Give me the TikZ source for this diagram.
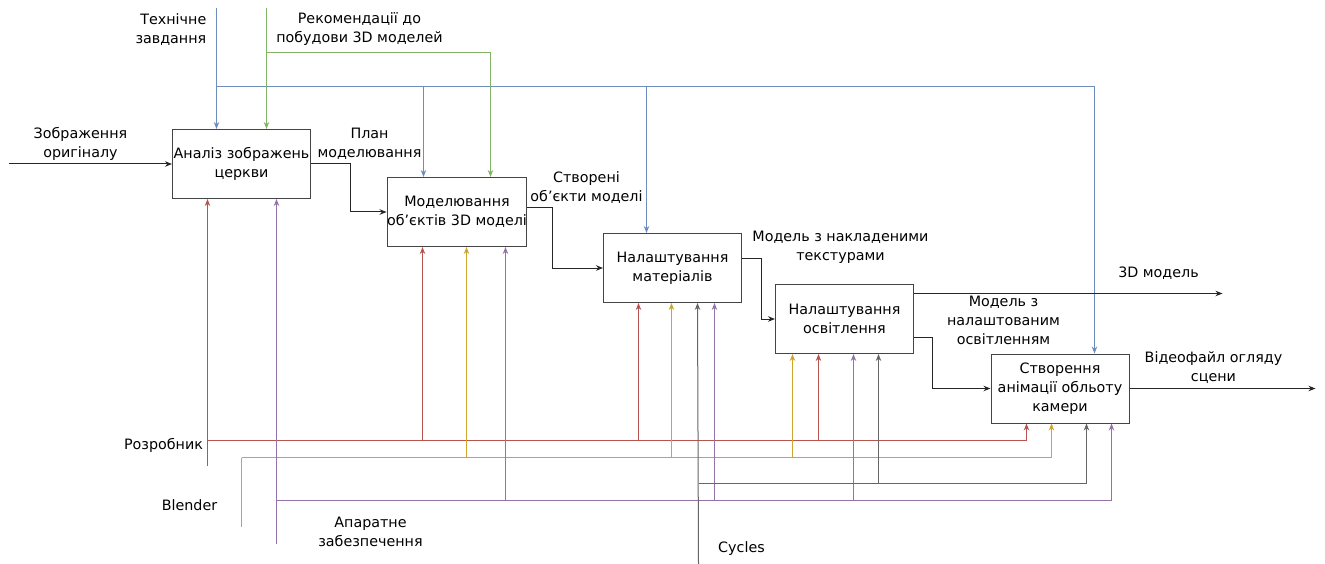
\documentclass[tikz,border=0pt]{standalone}
\usepackage{fontspec}
\setmainfont{DejaVu Sans}
\usepackage{xcolor}
\usepackage{tikz}
\usetikzlibrary{arrows.meta}
\definecolor{ctrlBlue}{HTML}{6C8EBF}
\definecolor{ctrlGreen}{HTML}{82B366}
\definecolor{mechRed}{HTML}{B85450}
\definecolor{mechYellow}{HTML}{CFA532}
\definecolor{mechPurple}{HTML}{9673A6}
\definecolor{mechGray}{HTML}{666666}
\definecolor{boxGray}{HTML}{444444}

\begin{document}
\begin{tikzpicture}[x=1pt,y=-1pt,
font=\fontsize{14.3}{19}\selectfont,
funcbox/.style={draw=boxGray, line width=1pt, minimum width=138pt, minimum height=69pt, inner sep=0pt, align=center},
lbl/.style={align=center, inner sep=0pt},
flow/.style={draw=black!85, line width=1pt, -{Stealth[length=7pt,width=5.5pt]}},
wire/.style={draw=#1, line width=1pt},
feed/.style={wire=#1, -{Stealth[length=7pt,width=5.5pt]}},
]
\path[use as bounding box, fill=white] (0,0) rectangle (1325,564);
\begin{scope}[shift={(0.5,0.5)}]

% function boxes
\node[funcbox] (analiz) at (241,163.5) {Аналіз зображень\\церкви};
\node[funcbox] (model) at (456.5,211.5) {Моделювання\\об’єктів 3D моделі};
\node[funcbox] (mater) at (672,267.5) {Налаштування\\матеріалів};
\node[funcbox] (osvit) at (844,318.5) {Налаштування\\освітлення};
\node[funcbox] (anim) at (1059.5,388) {Створення\\анімації обльоту\\камери};

% free ends
\coordinate (tzTop) at (216,8);
\coordinate (tzBus) at (216,86);
\coordinate (recTop) at (266,8);
\coordinate (recBus) at (266,52);
\coordinate (imgIn) at (8,163.5);
\coordinate (out3d) at (1222,293);
\coordinate (outVideo) at (1315,388);
\coordinate (razrEnd) at (207,465);
\coordinate (razrBus) at (207,440);
\coordinate (blendEnd) at (241,526);
\coordinate (blendBus) at (241,457);
\coordinate (aparEnd) at (276,543);
\coordinate (aparBus) at (276,500);
\coordinate (cycEnd) at (698,564);
\coordinate (cycBus) at (698,483);

% controls
\draw[feed=ctrlBlue] (tzTop) -- (tzTop |- analiz.north);
\draw[feed=ctrlBlue] (tzBus) -| ([xshift=-33.5pt]model.north);
\draw[feed=ctrlBlue] (tzBus) -| ([xshift=-26pt]mater.north);
\draw[feed=ctrlBlue] (tzBus) -| ([xshift=34.5pt]anim.north);
\draw[feed=ctrlGreen] (recTop) -- (recTop |- analiz.north);
\draw[feed=ctrlGreen] (recBus) -| ([xshift=33.5pt]model.north);

% mechanisms
\draw[feed=mechRed] (razrEnd) -- ([xshift=-34pt]analiz.south);
\foreach \b/\dx in {model/-34.5, mater/-34, osvit/-26, anim/-33.5}
  \draw[feed=mechRed] (razrBus) -| ([xshift=\dx pt]\b.south);
\draw[wire=mechYellow] (blendEnd) -- (blendBus);
\foreach \b/\dx in {model/9.5, mater/-1, osvit/-52, anim/-8.5}
  \draw[feed=mechYellow] (blendBus) -| ([xshift=\dx pt]\b.south);
\draw[feed=mechPurple] (aparEnd) -- ([xshift=35pt]analiz.south);
\foreach \b/\dx in {model/48.5, mater/42, osvit/9, anim/51.5}
  \draw[feed=mechPurple] (aparBus) -| ([xshift=\dx pt]\b.south);
\draw[feed=mechGray] (cycEnd) -- ([xshift=25pt]mater.south);
\foreach \b/\dx in {osvit/34, anim/26.5}
  \draw[feed=mechGray] (cycBus) -| ([xshift=\dx pt]\b.south);

% inputs and outputs
\draw[flow] (imgIn) -- (analiz.west);
\draw[flow] (analiz.east) -- ++(39,0) |- (model.west);
\draw[flow] ([yshift=4.5pt]model.east) -- ++(25,0) |- (mater.west);
\draw[flow] ([yshift=9.5pt]mater.east) -- ++(19,0) |- (osvit.west);
\draw[flow] ([yshift=25.5pt]osvit.east) -- (out3d);
\draw[flow] ([yshift=-18.5pt]osvit.east) -- ++(18,0) |- (anim.west);
\draw[flow] (anim.east) -- (outVideo);

% labels
\node[lbl, anchor=east, align=right] (tzLbl) at (206,29) {Технічне\\завдання};
\node[lbl] (recLbl) at (359,29) {Рекомендації до\\побудови 3D моделей};
\node[lbl] (imgLbl) at (80,143) {Зображення\\оригіналу};
\node[lbl] (planLbl) at (369,143) {План\\моделювання};
\node[lbl] (objLbl) at (586,187) {Створені\\об’єкти моделі};
\node[lbl] (texLbl) at (840,247) {Модель з накладеними\\текстурами};
\node[lbl] (m3dLbl) at (1158,273) {3D модель};
\node[lbl] (lightLbl) at (1003,320) {Модель з\\налаштованим\\освітленням};
\node[lbl] (videoLbl) at (1213,367) {Відеофайл огляду\\сцени};
\node[lbl] (razrLbl) at (163,445) {Розробник};
\node[lbl] (blendLbl) at (189,505) {Blender};
\node[lbl] (aparLbl) at (370,531) {Апаратне\\забезпечення};
\node[lbl] (cycLbl) at (741,548) {Cycles};
\end{scope}
\end{tikzpicture}
\end{document}
